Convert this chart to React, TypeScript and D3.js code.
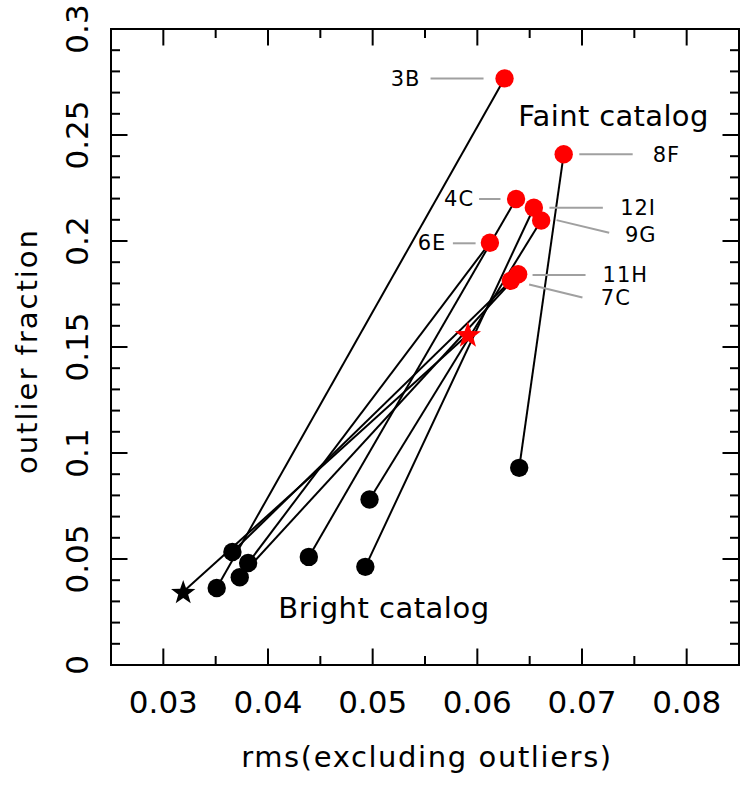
import React from "react";
import * as d3 from "d3";

// ---- data ----
const fields = ["3B", "8F", "4C", "12I", "9G", "6E", "11H", "7C"];
const faintRms = [0.0626, 0.06825, 0.0637, 0.0654, 0.0661, 0.0612, 0.0639, 0.0632];
const faintOutlier = [0.2767, 0.2409, 0.2198, 0.2157, 0.2097, 0.1992, 0.1843, 0.1812];
const brightRms = [0.0351, 0.064, 0.0439, 0.0493, 0.0497, 0.0381, 0.0373, 0.0366];
const brightOutlier = [0.0363, 0.093, 0.051, 0.0463, 0.0781, 0.0481, 0.0414, 0.0533];
const starBright = [0.0319, 0.0345];
const starFaint = [0.0591, 0.1559];

const xMajorTicks = [0.03, 0.04, 0.05, 0.06, 0.07, 0.08];
const xTickLabels = ["0.03", "0.04", "0.05", "0.06", "0.07", "0.08"];
const yMajorTicks = [0, 0.05, 0.1, 0.15, 0.2, 0.25, 0.3];
const yTickLabels = ["0", "0.05", "0.1", "0.15", "0.2", "0.25", "0.3"];

const faintLabel = { text: "Faint catalog", x: 0.06391, y: 0.2542 };
const brightLabel = { text: "Bright catalog", x: 0.04098, y: 0.02237 };

// label layout: pixel offsets from the red point
const labelLayout: Record<string, { lead: number[][]; text: number[]; anchor: string }> = {
  "3B": { lead: [[-74, 0], [-21, 0]], text: [-84, 0], anchor: "end" },
  "8F": { lead: [[15.6, 0], [69, 0]], text: [89, 0], anchor: "start" },
  "4C": { lead: [[-37, 0], [-15.6, 0]], text: [-42, -0.7], anchor: "end" },
  "12I": { lead: [[15.6, 0], [69, 0]], text: [86.3, 0], anchor: "start" },
  "9G": { lead: [[15.4, -0.3], [68, 12.4]], text: [83.7, 13.7], anchor: "start" },
  "6E": { lead: [[-37, 0.6], [-14.3, 0.6]], text: [-43.6, 0], anchor: "end" },
  "11H": { lead: [[14.4, 0.7], [67.4, 0.7]], text: [84.4, 0], anchor: "start" },
  "7C": { lead: [[18.3, 3.6], [71.6, 16.6]], text: [90, 16.3], anchor: "start" },
};

const W = 741;
const H = 787;
const M = { left: 111, top: 29, right: 739, bottom: 665 };
const FONT = "'DejaVu Sans', sans-serif";

function starPath(R: number, r: number) {
  const pts: [number, number][] = [];
  for (let i = 0; i < 10; i++) {
    const a = -Math.PI / 2 + (i * Math.PI) / 5;
    const rad = i % 2 === 0 ? R : r;
    pts.push([rad * Math.cos(a), rad * Math.sin(a)]);
  }
  return "M" + pts.map((p) => p.join(",")).join("L") + "Z";
}

export default function App() {
  const x = d3.scaleLinear().domain([0.025, 0.085]).range([M.left, M.right]);
  const y = d3.scaleLinear().domain([0, 0.3]).range([M.bottom, M.top]);

  const xMinor = d3.range(0.025, 0.0851, 0.005).filter(
    (v) => !xMajorTicks.some((t) => Math.abs(t - v) < 1e-6)
  );
  const yMinor = d3.range(0, 0.3001, 0.01).filter(
    (v) => !yMajorTicks.some((t) => Math.abs(t - v) < 1e-6)
  );
  const MAJ = 16.5;
  const MIN = 9;

  const tickLines: JSX.Element[] = [];
  xMajorTicks.forEach((t, i) => {
    const px = x(t);
    tickLines.push(<line key={"xb" + i} x1={px} x2={px} y1={M.bottom} y2={M.bottom - MAJ} />);
    tickLines.push(<line key={"xt" + i} x1={px} x2={px} y1={M.top} y2={M.top + MAJ} />);
  });
  xMinor.forEach((t, i) => {
    const px = x(t);
    tickLines.push(<line key={"xbm" + i} x1={px} x2={px} y1={M.bottom} y2={M.bottom - MIN} />);
    tickLines.push(<line key={"xtm" + i} x1={px} x2={px} y1={M.top} y2={M.top + MIN} />);
  });
  yMajorTicks.forEach((t, i) => {
    const py = y(t);
    tickLines.push(<line key={"yl" + i} x1={M.left} x2={M.left + MAJ} y1={py} y2={py} />);
    tickLines.push(<line key={"yr" + i} x1={M.right} x2={M.right - MAJ} y1={py} y2={py} />);
  });
  yMinor.forEach((t, i) => {
    const py = y(t);
    tickLines.push(<line key={"ylm" + i} x1={M.left} x2={M.left + MIN} y1={py} y2={py} />);
    tickLines.push(<line key={"yrm" + i} x1={M.right} x2={M.right - MIN} y1={py} y2={py} />);
  });

  const R = 9.2;

  return (
    <svg
      width={W}
      height={H}
      viewBox={`0 0 ${W} ${H}`}
      style={{ position: "absolute", left: 0, top: 0, background: "#fff" }}
      fontFamily={FONT}
    >
      <rect x={0} y={0} width={W} height={H} fill="#fff" />

      {/* connecting lines */}
      <g stroke="#000" strokeWidth={2}>
        {fields.map((f, i) => (
          <line
            key={f}
            x1={x(brightRms[i])}
            y1={y(brightOutlier[i])}
            x2={x(faintRms[i])}
            y2={y(faintOutlier[i])}
          />
        ))}
        <line
          x1={x(starBright[0])}
          y1={y(starBright[1])}
          x2={x(starFaint[0])}
          y2={y(starFaint[1])}
        />
      </g>

      {/* leader lines */}
      <g stroke="#a0a0a0" strokeWidth={2}>
        {fields.map((f, i) => {
          const L = labelLayout[f];
          const px = x(faintRms[i]);
          const py = y(faintOutlier[i]);
          return (
            <line
              key={f}
              x1={px + L.lead[0][0]}
              y1={py + L.lead[0][1]}
              x2={px + L.lead[1][0]}
              y2={py + L.lead[1][1]}
            />
          );
        })}
      </g>

      {/* bright points */}
      {fields.map((f, i) => (
        <circle key={"b" + f} cx={x(brightRms[i])} cy={y(brightOutlier[i])} r={R} fill="#000" />
      ))}
      {/* faint points */}
      {fields.map((f, i) => (
        <circle key={"f" + f} cx={x(faintRms[i])} cy={y(faintOutlier[i])} r={R} fill="#ff0000" />
      ))}
      {/* stars */}
      <path
        d={starPath(12.8, 5.2)}
        transform={`translate(${x(starBright[0])},${y(starBright[1]) + 1})`}
        fill="#000"
      />
      <path
        d={starPath(13.8, 5.6)}
        transform={`translate(${x(starFaint[0])},${y(starFaint[1]) + 1})`}
        fill="#ff0000"
      />

      {/* point labels */}
      <g fontSize={21} fill="#000" letterSpacing={1}>
        {fields.map((f, i) => {
          const L = labelLayout[f];
          const px = x(faintRms[i]);
          const py = y(faintOutlier[i]);
          return (
            <text
              key={f}
              x={px + L.text[0]}
              y={py + L.text[1] + 7.6}
              textAnchor={L.anchor as any}
            >
              {f}
            </text>
          );
        })}
      </g>

      {/* catalog labels */}
      <text x={x(faintLabel.x)} y={y(faintLabel.y)} fontSize={29} letterSpacing={0.35}>
        {faintLabel.text}
      </text>
      <text x={x(brightLabel.x)} y={y(brightLabel.y)} fontSize={29} letterSpacing={0.5}>
        {brightLabel.text}
      </text>

      {/* frame & ticks */}
      <g stroke="#000" strokeWidth={2} fill="none">
        {tickLines}
        <rect x={M.left} y={M.top} width={M.right - M.left} height={M.bottom - M.top} />
      </g>

      {/* tick labels */}
      <g fontSize={31} fill="#000">
        {xMajorTicks.map((t, i) => (
          <text key={"xl" + i} x={x(t)} y={713} textAnchor="middle">
            {xTickLabels[i]}
          </text>
        ))}
        {yMajorTicks.map((t, i) => (
          <text
            key={"yl" + i}
            transform={`translate(88.3,${y(t)}) rotate(-90)`}
            textAnchor="middle"
          >
            {yTickLabels[i]}
          </text>
        ))}
      </g>

      {/* axis titles */}
      <text x={(M.left + M.right) / 2 + 2} y={767} textAnchor="middle" fontSize={29} letterSpacing={1.6}>
        rms(excluding outliers)
      </text>
      <text
        transform={`translate(36.7,${(M.top + M.bottom) / 2 + 4}) rotate(-90)`}
        textAnchor="middle"
        fontSize={29}
        letterSpacing={2}
      >
        outlier fraction
      </text>
    </svg>
  );
}
